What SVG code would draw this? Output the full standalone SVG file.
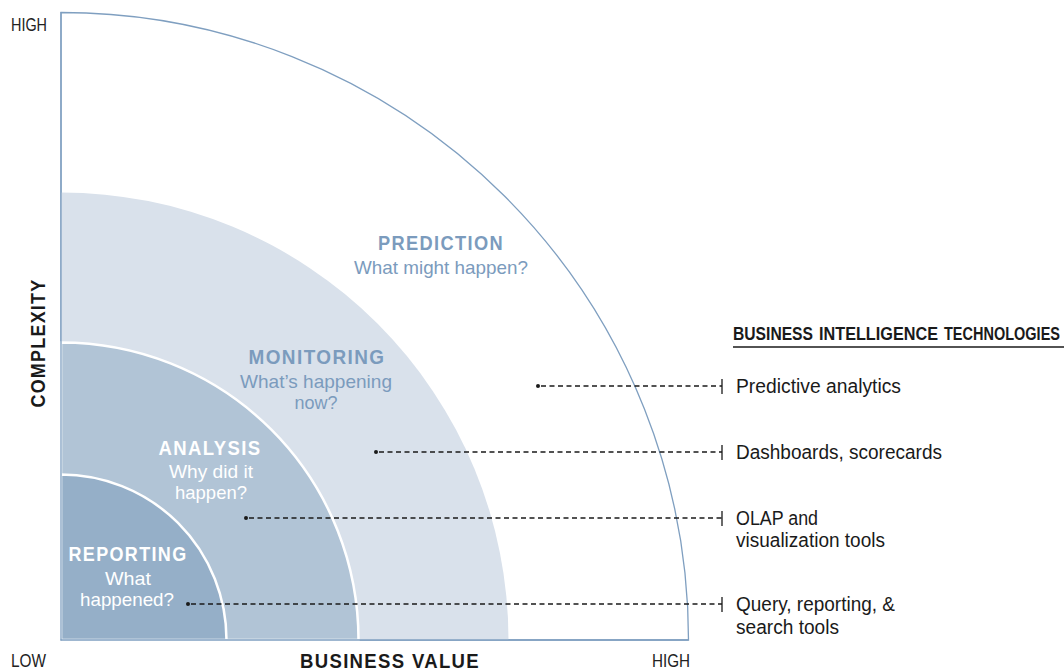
<svg xmlns="http://www.w3.org/2000/svg" width="1064" height="671" viewBox="0 0 1064 671">
<style>
.ax{font-family:"Liberation Sans",Arial,sans-serif;font-size:18px;fill:#222}
.axb{font-family:"Liberation Sans",Arial,sans-serif;font-size:21px;font-weight:bold;fill:#1a1a1a}
.lh{font-family:"Liberation Sans",Arial,sans-serif;font-size:14.5px;font-weight:bold;fill:#1a1a1a}
.tech{font-family:"Liberation Sans",Arial,sans-serif;font-size:20px;fill:#1a1a1a}
.hd{font-family:"Liberation Sans",Arial,sans-serif;font-size:20px;font-weight:bold;letter-spacing:1.5px}
.sub{font-family:"Liberation Sans",Arial,sans-serif;font-size:19px}
.blue{fill:#7b9bbd}
.white{fill:#ffffff}
.conn{stroke:#1a1a1a;stroke-width:1.3;stroke-dasharray:5 3.5;fill:none}
.tick{stroke:#1a1a1a;stroke-width:1.3;fill:none}
.dot{fill:#1a1a1a}
</style>
<rect width="1064" height="671" fill="#ffffff"/>
<g id="prediction">
<path d="M61,640 L61,12.5 A627.5,627.5 0 0 1 688.5,640 Z" fill="#ffffff" stroke="#7f9fc0" stroke-width="1.3"/>
<text class="hd blue" x="441" y="250" text-anchor="middle" textLength="126" lengthAdjust="spacingAndGlyphs">PREDICTION</text>
<text class="sub blue" x="441" y="274" text-anchor="middle" textLength="174" lengthAdjust="spacingAndGlyphs">What might happen?</text>
</g>
<g id="monitoring">
<path d="M61,640 L61,192.5 A447.5,447.5 0 0 1 508.5,640 Z" fill="#d9e1eb"/>
<text class="hd blue" x="317" y="364" text-anchor="middle" textLength="137" lengthAdjust="spacingAndGlyphs">MONITORING</text>
<text class="sub blue" x="316" y="388" text-anchor="middle" textLength="152" lengthAdjust="spacingAndGlyphs">What’s happening</text>
<text class="sub blue" x="316" y="409" text-anchor="middle" textLength="43" lengthAdjust="spacingAndGlyphs">now?</text>
</g>
<g id="analysis">
<path d="M61,640 L61,342.5 A297.5,297.5 0 0 1 358.5,640 Z" fill="#b1c4d6" stroke="#ffffff" stroke-width="2.5"/>
<text class="hd white" x="210" y="455" text-anchor="middle" textLength="103" lengthAdjust="spacingAndGlyphs">ANALYSIS</text>
<text class="sub white" x="211" y="478" text-anchor="middle" textLength="84" lengthAdjust="spacingAndGlyphs">Why did it</text>
<text class="sub white" x="211" y="499" text-anchor="middle" textLength="72" lengthAdjust="spacingAndGlyphs">happen?</text>
</g>
<g id="reporting">
<path d="M61,640 L61,474.5 A165.5,165.5 0 0 1 226.5,640 Z" fill="#95afc8" stroke="#ffffff" stroke-width="2.5"/>
<text class="hd white" x="128" y="561" text-anchor="middle" textLength="119" lengthAdjust="spacingAndGlyphs">REPORTING</text>
<text class="sub white" x="128" y="585" text-anchor="middle" textLength="46" lengthAdjust="spacingAndGlyphs">What</text>
<text class="sub white" x="127" y="606" text-anchor="middle" textLength="94" lengthAdjust="spacingAndGlyphs">happened?</text>
</g>
<g id="axes">
<line x1="61" y1="12" x2="61" y2="640.5" stroke="#7f9fc0" stroke-width="1.3"/>
<line x1="60.5" y1="640" x2="688.5" y2="640" stroke="#7f9fc0" stroke-width="1.3"/>
<text class="ax" x="11" y="31" textLength="36" lengthAdjust="spacingAndGlyphs">HIGH</text>
<text class="ax" x="11" y="667" textLength="35" lengthAdjust="spacingAndGlyphs">LOW</text>
<text class="ax" x="652" y="667" textLength="38" lengthAdjust="spacingAndGlyphs">HIGH</text>
<text class="axb" x="390" y="668" text-anchor="middle" textLength="180" lengthAdjust="spacingAndGlyphs" letter-spacing="1.5">BUSINESS VALUE</text>
<text class="axb" transform="translate(45,343) rotate(-90)" x="0" y="0" text-anchor="middle" textLength="129" lengthAdjust="spacingAndGlyphs" letter-spacing="1.5">COMPLEXITY</text>
</g>
<g id="legend">
<text class="lh" transform="translate(733,340) scale(1,1.24)" x="0" y="0" textLength="80" lengthAdjust="spacingAndGlyphs">BUSINESS</text>
<text class="lh" transform="translate(819,340) scale(1,1.24)" x="0" y="0" textLength="119" lengthAdjust="spacingAndGlyphs">INTELLIGENCE</text>
<text class="lh" transform="translate(944,340) scale(1,1.24)" x="0" y="0" textLength="116" lengthAdjust="spacingAndGlyphs">TECHNOLOGIES</text>
<line x1="733" y1="347" x2="1064" y2="347" stroke="#1a1a1a" stroke-width="1.3"/>
</g>
<g id="tech-predictive"><text class="tech" x="736" y="393" textLength="165" lengthAdjust="spacingAndGlyphs">Predictive analytics</text></g>
<g id="tech-dashboards"><text class="tech" x="736" y="459" textLength="206" lengthAdjust="spacingAndGlyphs">Dashboards, scorecards</text></g>
<g id="tech-olap"><text class="tech" x="736" y="525" textLength="82" lengthAdjust="spacingAndGlyphs">OLAP and</text><text class="tech" x="736" y="547" textLength="149" lengthAdjust="spacingAndGlyphs">visualization tools</text></g>
<g id="tech-query"><text class="tech" x="736" y="611" textLength="159" lengthAdjust="spacingAndGlyphs">Query, reporting, &amp;</text><text class="tech" x="736" y="634" textLength="103" lengthAdjust="spacingAndGlyphs">search tools</text></g>
<g id="connectors">
<circle class="dot" cx="538" cy="386" r="2"/><line class="conn" x1="541" y1="386" x2="722" y2="386"/><line class="tick" x1="722" y1="379" x2="722" y2="394"/>
<circle class="dot" cx="376" cy="452" r="2"/><line class="conn" x1="379" y1="452" x2="722" y2="452"/><line class="tick" x1="722" y1="445" x2="722" y2="460"/>
<circle class="dot" cx="246" cy="518" r="2"/><line class="conn" x1="249" y1="518" x2="722" y2="518"/><line class="tick" x1="722" y1="511" x2="722" y2="526"/>
<circle class="dot" cx="188" cy="604" r="2"/><line class="conn" x1="191" y1="604" x2="722" y2="604"/><line class="tick" x1="722" y1="597" x2="722" y2="612"/>
</g>
</svg>
